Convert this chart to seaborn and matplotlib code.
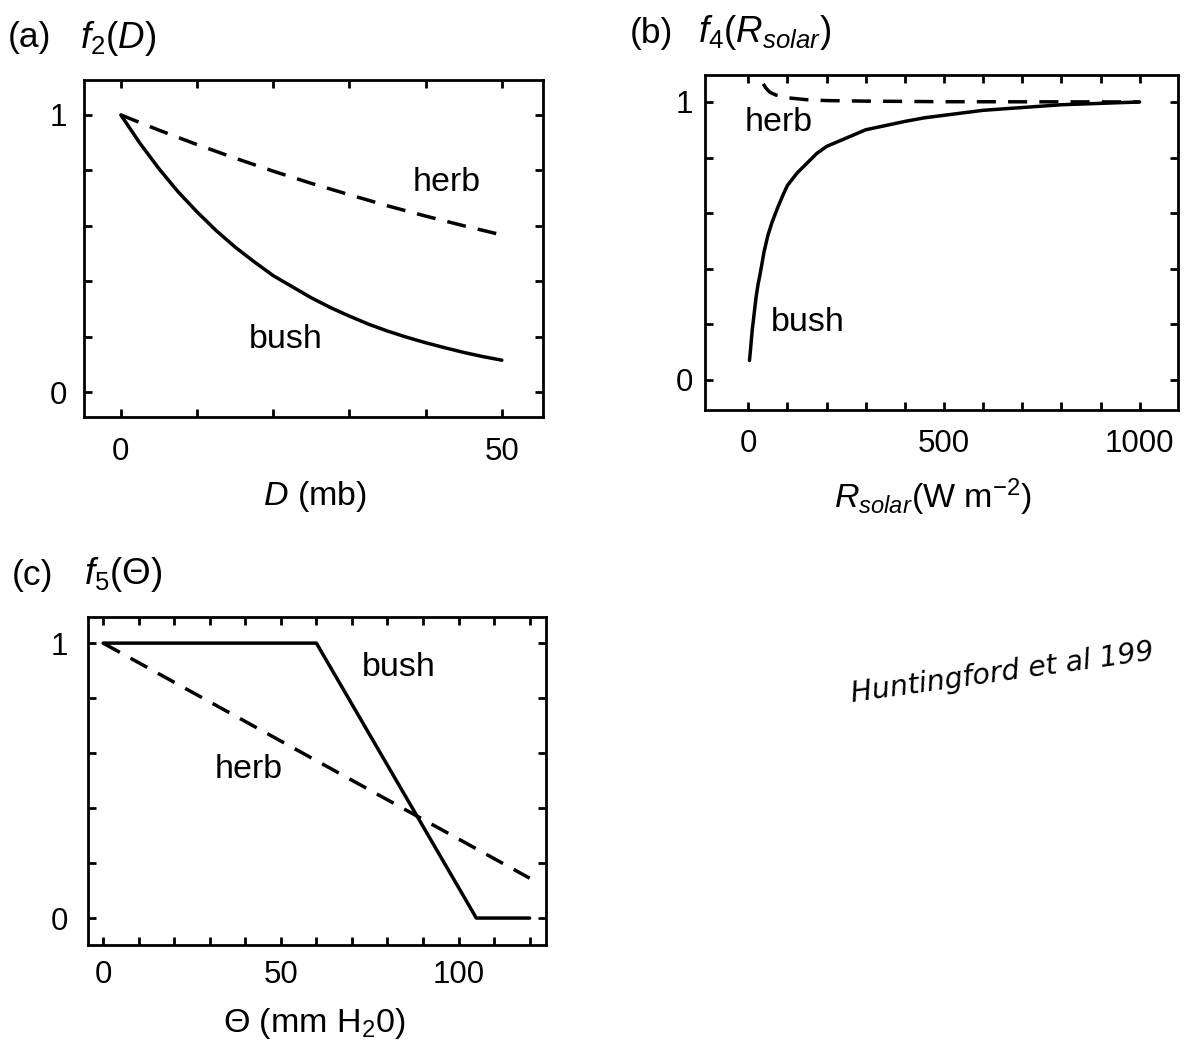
import numpy as np
import pandas as pd
import matplotlib
matplotlib.use("Agg")
import matplotlib.pyplot as plt
from matplotlib.ticker import FixedLocator
import seaborn as sns

# ---------------- data ----------------
# Panel (a): f2(D)
D_bush = [0, 2.5, 5, 7.5, 10, 12.5, 15, 17.5, 20, 22.5, 25, 27.5, 30, 32.5, 35,
          37.5, 40, 42.5, 45, 47.5, 50]
f2_bush = [1.0, 0.898, 0.806, 0.723, 0.65, 0.583, 0.523, 0.47, 0.42, 0.38, 0.34,
           0.305, 0.274, 0.245, 0.22, 0.198, 0.178, 0.16, 0.143, 0.128, 0.115]
D_herb = [0, 5, 10, 15, 20, 25, 30, 35, 40, 45, 50]
f2_herb = [1.0, 0.945, 0.893, 0.844, 0.797, 0.753, 0.712, 0.672, 0.635, 0.60, 0.567]

# Panel (b): f4(R_solar)
R_bush = [3, 5, 7.5, 10, 15, 20, 25, 30, 40, 50, 60, 75, 90, 100, 125, 150, 175,
          200, 250, 300, 350, 400, 450, 500, 600, 700, 800, 900, 1000]
f4_bush = [0.07, 0.10, 0.14, 0.18, 0.24, 0.30, 0.345, 0.38, 0.46, 0.52, 0.565,
           0.62, 0.67, 0.70, 0.745, 0.78, 0.815, 0.84, 0.87, 0.90, 0.915, 0.93,
           0.943, 0.952, 0.97, 0.98, 0.99, 0.995, 1.0]
R_herb = [38, 45, 55, 70, 100, 150, 200, 300, 500, 1000]
f4_herb = [1.065, 1.05, 1.035, 1.025, 1.015, 1.008, 1.005, 1.003, 1.001, 1.0]

# Panel (c): f5(Theta)
theta_bush = [0, 60, 105, 120]
f5_bush = [1.0, 1.0, 0.0, 0.0]
theta_herb = [0, 120]
f5_herb = [1.0, 0.145]

# ---------------- style ----------------
sns.set_theme(style="ticks")
plt.rcParams['font.family'] = ['Liberation Sans', 'DejaVu Sans']
plt.rcParams['mathtext.fontset'] = 'custom'
plt.rcParams['mathtext.rm'] = 'Liberation Sans'
plt.rcParams['mathtext.it'] = 'Liberation Sans:italic'
plt.rcParams['mathtext.bf'] = 'Liberation Sans:bold'
plt.rcParams['axes.linewidth'] = 2.0
plt.rcParams['axes.edgecolor'] = 'black'
plt.rcParams['text.color'] = 'black'
plt.rcParams['axes.labelcolor'] = 'black'
plt.rcParams['xtick.color'] = 'black'
plt.rcParams['ytick.color'] = 'black'

W, H = 1188, 1048
fig = plt.figure(figsize=(W / 100, H / 100), dpi=100)
fig.patch.set_facecolor('white')


def px_axes(l, t, r, b):
    return fig.add_axes([l / W, 1 - b / H, (r - l) / W, (b - t) / H])


TICK_FS = 22.5
LAB_FS = 24.5
TITLE_FS = 25.5
LW = 2.5
DASH = (5.5, 3.5)


def style_axes(ax, xmaj, xmin, ymaj, ymin, xpad, ypad):
    ax.xaxis.set_major_locator(FixedLocator(xmaj))
    ax.xaxis.set_minor_locator(FixedLocator(xmin))
    ax.yaxis.set_major_locator(FixedLocator(ymaj))
    ax.yaxis.set_minor_locator(FixedLocator(ymin))
    ax.tick_params(which='both', direction='in', top=True, right=True,
                   length=6, width=2, colors='black')
    ax.tick_params(axis='x', which='major', pad=xpad, labelsize=TICK_FS)
    ax.tick_params(axis='y', which='major', pad=ypad, labelsize=TICK_FS)
    ax.set_ylabel('')
    for s in ax.spines.values():
        s.set_visible(True)
        s.set_linewidth(2.0)
    ax.set_facecolor('white')


def panel_title(xl, xf, yc, letter, func):
    fig.text(xl / W, 1 - yc / H, letter, fontsize=TITLE_FS, ha='left', va='center')
    fig.text(xf / W, 1 - yc / H, func, fontsize=TITLE_FS + 1, ha='left', va='center')


# ---------------- panel (a) ----------------
axa = px_axes(83.5, 80, 543, 417)
sns.lineplot(x=D_bush, y=f2_bush, ax=axa, color='black', lw=LW)
sns.lineplot(x=D_herb, y=f2_herb, ax=axa, color='black', lw=LW,
             linestyle=(0, DASH))
axa.set_xlim(-4.9, 55.4)
axa.set_ylim(-0.09, 1.126)
style_axes(axa, [0, 50], [10, 20, 30, 40], [0, 1], [0.2, 0.4, 0.6, 0.8], 14.5, 12)
axa.text(42.8, 0.755, 'herb', fontsize=LAB_FS, ha='center', va='center')
axa.text(21.7, 0.19, 'bush', fontsize=LAB_FS, ha='center', va='center')
axa.set_xlabel('$D$ (mb)', fontsize=LAB_FS)
axa.xaxis.label.set_va('center')
axa.xaxis.set_label_coords(0.503, -0.237)
panel_title(8, 80, 38, '(a)', r'$f_{\mathit{2}}(D)$')

# ---------------- panel (b) ----------------
axb = px_axes(704.5, 75, 1178, 410)
sns.lineplot(x=R_bush, y=f4_bush, ax=axb, color='black', lw=LW)
sns.lineplot(x=R_herb, y=f4_herb, ax=axb, color='black', lw=LW,
             linestyle=(0, DASH))
axb.set_xlim(-112, 1098)
axb.set_ylim(-0.108, 1.097)
style_axes(axb, [0, 500, 1000], [100, 200, 300, 400, 600, 700, 800, 900],
           [0, 1], [0.2, 0.4, 0.6, 0.8], 13.5, 8)
axb.text(78, 0.925, 'herb', fontsize=LAB_FS, ha='center', va='center')
axb.text(151, 0.205, 'bush', fontsize=LAB_FS, ha='center', va='center')
axb.set_xlabel(r'$R_{solar}$(W m$^{-2}$)', fontsize=LAB_FS)
axb.xaxis.label.set_va('center')
axb.xaxis.set_label_coords(0.483, -0.26)
panel_title(630, 698, 33, '(b)', r'$f_{\mathit{4}}(R_{solar})$')

# ---------------- panel (c) ----------------
axc = px_axes(87.5, 617, 546, 945)
sns.lineplot(x=theta_bush, y=f5_bush, ax=axc, color='black', lw=LW)
sns.lineplot(x=theta_herb, y=f5_herb, ax=axc, color='black', lw=LW,
             linestyle=(0, DASH))
axc.set_xlim(-4.4, 124.6)
axc.set_ylim(-0.098, 1.095)
style_axes(axc, [0, 50, 100], [10, 20, 30, 40, 60, 70, 80, 90, 110, 120],
           [0, 1], [0.2, 0.4, 0.6, 0.8], 11, 14)
axc.text(83.3, 0.913, 'bush', fontsize=LAB_FS, ha='center', va='center')
axc.text(41, 0.54, 'herb', fontsize=LAB_FS, ha='center', va='center')
axc.set_xlabel('Θ (mm H$_2$0)', fontsize=LAB_FS)
axc.xaxis.label.set_va('center')
axc.xaxis.set_label_coords(0.494, -0.238)
panel_title(12, 84, 575, '(c)', r'$f_{\mathit{5}}(\Theta)$')

# handwritten note
fig.text(852 / W, 1 - 702 / H, 'Huntingford et al 199', fontsize=20.5,
         style='italic', family=['DejaVu Sans'], fontweight='light',
         rotation=8, rotation_mode='anchor', ha='left', va='baseline')

fig.savefig('out.png', dpi=100, facecolor='white')
